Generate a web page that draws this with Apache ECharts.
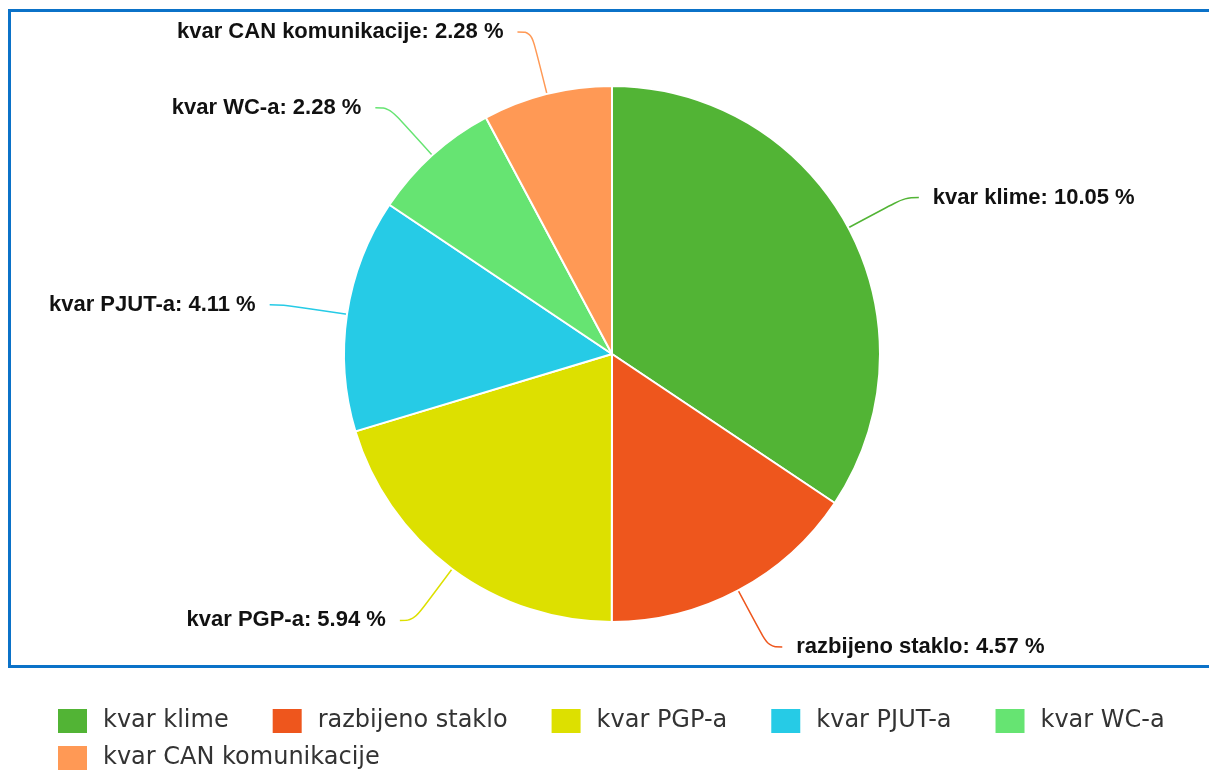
<!DOCTYPE html>
<html>
<head>
<meta charset="utf-8">
<script src="https://cdn.jsdelivr.net/npm/echarts@6/dist/echarts.min.js"></script>
<style>
  html, body { margin: 0; padding: 0; background: #fff; }
  #chart { width: 1209px; height: 772px; }
</style>
</head>
<body>
<div id="chart"></div>
<script>
  // podaci
  var categories = ['kvar klime', 'razbijeno staklo', 'kvar PGP-a', 'kvar PJUT-a', 'kvar WC-a', 'kvar CAN komunikacije'];
  var values = [10.05, 4.57, 5.94, 4.11, 2.28, 2.28];
  var colors = ['#52b435', '#ee561d', '#dde000', '#26cbe6', '#66e472', '#ff9955'];

  var chartDom = document.getElementById('chart');
  var myChart = echarts.init(chartDom);

  var pieData = categories.map(function (name, i) {
    return { name: name, value: values[i] };
  });

  var option = {
    color: colors,
    animation: false,
    graphic: [{
      type: 'rect',
      shape: { x: 9.5, y: 10.5, width: 1300, height: 656 },
      style: { fill: 'none', stroke: '#0b72c8', lineWidth: 3 }
    }],
    legend: {
      left: 56,
      top: 707,
      width: 1150,
      padding: 0,
      itemWidth: 31,
      itemHeight: 26,
      itemGap: 9,
      icon: 'rect',
      textStyle: {
        fontFamily: 'DejaVu Sans',
        fontSize: 24,
        lineHeight: 26,
        color: '#333',
        padding: [0, 33, 0, 10]
      },
      data: categories
    },
    series: [{
      type: 'pie',
      center: [612, 354],
      radius: 268,
      startAngle: 90,
      clockwise: true,
      itemStyle: { borderColor: '#fff', borderWidth: 2 },
      label: {
        formatter: '{b}: {c} %',
        fontFamily: 'Liberation Sans',
        fontWeight: 'bold',
        fontSize: 22,
        color: '#111',
        distanceToLabelLine: 14
      },
      labelLine: {
        show: true,
        length: 64,
        length2: 14,
        smooth: 0.4,
        lineStyle: { width: 1.5 }
      },
      data: pieData
    }]
  };

  option && myChart.setOption(option);
</script>
</body>
</html>
